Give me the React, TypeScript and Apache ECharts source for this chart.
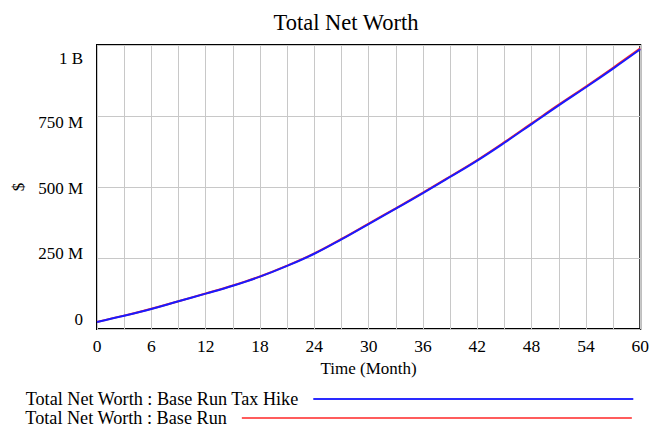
import React, { useEffect, useRef } from "react";
import * as echarts from "echarts";

const months = [0, 3, 6, 9, 12, 15, 18, 21, 24, 27, 30, 33, 36, 39, 42, 45, 48, 51, 54, 57, 60];
// values in millions of $
const baseRun = [25, 47, 71, 98, 125, 153, 185, 223, 266, 317, 371, 425, 480, 537, 595, 658, 724, 790, 854, 920, 988];
const taxHike = [25, 46.8, 70.6, 97.6, 124.5, 152.4, 184.3, 222.2, 265, 315.8, 369.7, 423.5, 478.5, 535.3, 593, 655.8, 721.6, 787.5, 851.3, 917, 985];

const yTickValues = [0, 250, 500, 750, 1000];
const yTickLabels = ["0", "250 M", "500 M", "750 M", "1 B"];
// vertical label shifts (px, + = down) so labels sit evenly inside the frame
const yLabelShift = [-10, -5, 1.5, 6.5, 13];

const titleText = "Total Net Worth";
const xName = "Time (Month)";
const yName = "$";
const nameTax = "Total Net Worth : Base Run Tax Hike";
const nameBase = "Total Net Worth : Base Run";

const FONT = "Liberation Serif";

export default function App() {
  const ref = useRef<HTMLDivElement>(null);
  useEffect(() => {
    if (!ref.current) return;
    const chart = echarts.init(ref.current, undefined, { renderer: "svg" });
    const rich: Record<string, any> = {};
    yLabelShift.forEach((s, i) => {
      rich["s" + i] = {
        fontFamily: FONT,
        fontSize: 17,
        color: "#000",
        padding: s >= 0 ? [2 * s, 0, 0, 0] : [0, 0, -2 * s, 0],
      };
    });
    chart.setOption({
      animation: false,
      backgroundColor: "#fff",
      title: {
        text: titleText,
        left: 341,
        top: 6,
        textAlign: "center",
        textStyle: { fontFamily: FONT, fontSize: 22.5, fontWeight: "normal", color: "#000" },
      },
      grid: {
        left: 97,
        right: 9,
        top: 45,
        bottom: 101,
        show: true,
        borderColor: "#000",
        borderWidth: 2,
        containLabel: false,
      },
      xAxis: {
        type: "value",
        min: 0,
        max: 60,
        interval: 3,
        name: xName,
        nameLocation: "middle",
        nameGap: 30,
        nameTextStyle: { fontFamily: FONT, fontSize: 17, color: "#000" },
        axisLine: { show: false },
        axisTick: { show: false },
        axisLabel: {
          margin: 8,
          fontFamily: FONT,
          fontSize: 17.5,
          color: "#000",
          formatter: (v: number) => (v % 6 === 0 ? String(v) : ""),
        },
        splitLine: { show: true, lineStyle: { color: "#c8c8c8", width: 1 } },
      },
      yAxis: {
        type: "value",
        min: 0,
        max: 1000,
        interval: 250,
        name: yName,
        nameLocation: "middle",
        nameGap: 68,
        nameRotate: 90,
        nameTextStyle: { fontFamily: FONT, fontSize: 17, color: "#000" },
        axisLine: { show: false },
        axisTick: { show: false },
        axisLabel: {
          margin: 14,
          formatter: (v: number) => {
            const i = yTickValues.indexOf(v);
            if (i < 0) return "";
            return "{s" + i + "|" + yTickLabels[i] + "}";
          },
          rich,
        },
        splitLine: { show: true, lineStyle: { color: "#c8c8c8", width: 1 } },
      },
      legend: [
        {
          data: [nameTax],
          left: 20,
          top: 385,
          align: "right",
          icon: "rect",
          itemWidth: 320,
          itemHeight: 2,
          selectedMode: false,
          textStyle: { fontFamily: FONT, fontSize: 18.2, color: "#000", padding: [0, 10, 0, 0] },
        },
        {
          data: [nameBase],
          left: 20,
          top: 404,
          align: "right",
          icon: "rect",
          itemWidth: 390,
          itemHeight: 2,
          selectedMode: false,
          textStyle: { fontFamily: FONT, fontSize: 18.2, color: "#000", padding: [0, 10, 0, 0] },
        },
      ],
      series: [
        {
          name: nameBase,
          type: "line",
          data: months.map((m, i) => [m, baseRun[i]]),
          symbol: "none",
          smooth: 0.4,
          lineStyle: { color: "#ff2a2a", width: 2 },
          itemStyle: { color: "#ff5c5c" },
        },
        {
          name: nameTax,
          type: "line",
          data: months.map((m, i) => [m, taxHike[i]]),
          symbol: "none",
          smooth: 0.4,
          lineStyle: { color: "#1a1aff", width: 2 },
          itemStyle: { color: "#2a2aff" },
        },
      ],
    });
    return () => chart.dispose();
  }, []);
  return (
    <div
      ref={ref}
      style={{ position: "fixed", left: 0, top: 0, width: 652, height: 430, background: "#fff" }}
    />
  );
}
